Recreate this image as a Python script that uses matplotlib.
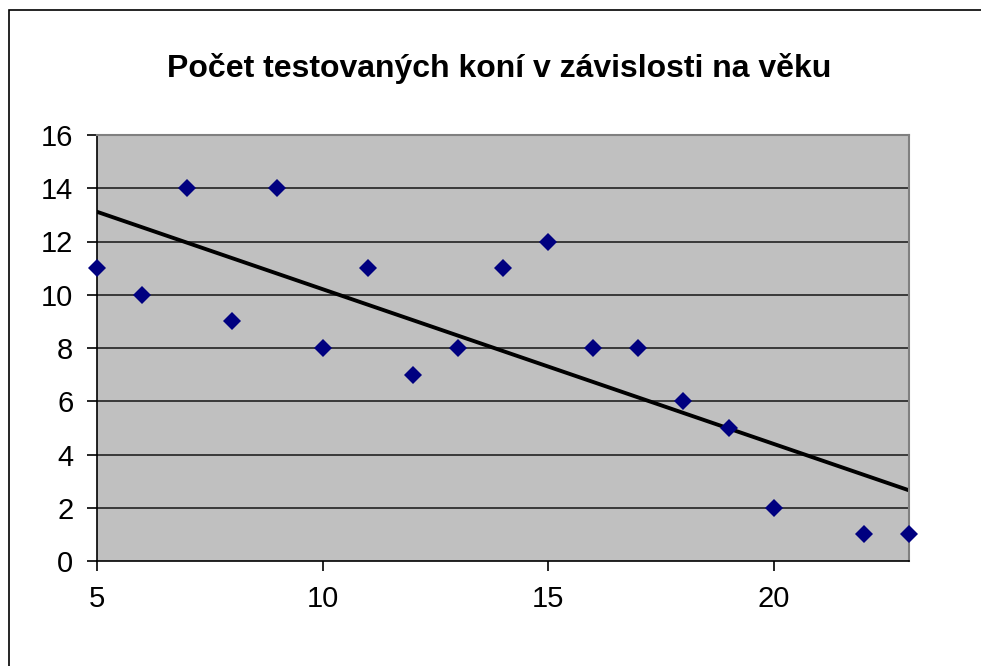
import numpy as np
import matplotlib
matplotlib.use("Agg")
import matplotlib.pyplot as plt
from matplotlib.patches import Rectangle

# age (years) vs number of tested horses
vek = [5, 6, 7, 8, 9, 10, 11, 12, 13, 14, 15, 16, 17, 18, 19, 20, 22, 23]
pocet = [11, 10, 14, 9, 14, 8, 11, 7, 8, 11, 12, 8, 8, 6, 5, 2, 1, 1]
x_ticks = [5, 10, 15, 20]
y_ticks = [0, 2, 4, 6, 8, 10, 12, 14, 16]

plt.rcParams["font.family"] = ["Liberation Sans", "DejaVu Sans"]

fig = plt.figure(figsize=(9.81, 6.66), dpi=100)
# outer chart border (cut off at right/bottom like the screenshot)
fig.patches.append(Rectangle((9 / 981, -0.1), 1.2, 1 - 10 / 666 + 0.1, transform=fig.transFigure,
                             fill=False, ec="black", lw=1.2))

ax = fig.add_axes([97 / 981, 1 - 561 / 666, 812 / 981, 426 / 666])
ax.set_facecolor("#C0C0C0")
ax.set_xlim(5, 23)
ax.set_ylim(0, 16)
ax.set_xticks(x_ticks)
ax.set_yticks(y_ticks)
for y in y_ticks[1:-1]:
    ax.axhline(y, color="#222222", lw=1.2, zorder=1)

# linear trend
k, q = np.polyfit(vek, pocet, 1)
xs = np.array([min(vek), max(vek)])
ax.plot(xs, k * xs + q, color="black", lw=2.8, zorder=2)

ax.plot(vek, pocet, "D", color="#000080", ms=9, mew=0, zorder=3, clip_on=False)

for s in ["top", "right"]:
    ax.spines[s].set_color("#808080")
    ax.spines[s].set_linewidth(1.5)
for s in ["left", "bottom"]:
    ax.spines[s].set_color("black")
    ax.spines[s].set_linewidth(1.2)
ax.tick_params(direction="out", length=7, width=1.2, labelsize=21, colors="black")
ax.tick_params(axis="x", pad=10)
ax.tick_params(axis="y", pad=10)

fig.text(499 / 981, 1 - 68 / 666, "Počet testovaných koní v závislosti na věku",
         ha="center", va="center", fontsize=23, fontweight="bold")

fig.savefig("out.png", dpi=100)
